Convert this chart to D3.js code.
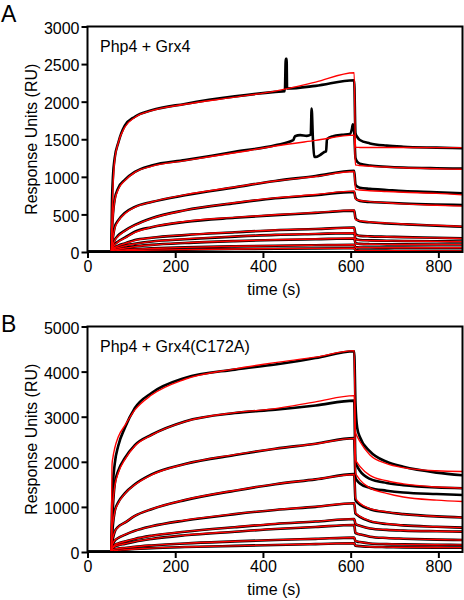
<!DOCTYPE html>
<html><head><meta charset="utf-8">
<script src="https://cdn.jsdelivr.net/npm/d3@7"></script>
<style>body{margin:0;background:#fff}svg{display:block}</style>
</head><body><svg id="c" width="464" height="600"></svg>
<script>
// sample times (s)
const times = [0,54,56,58,62,70,85,108,146,222,336,428,520,608,611,615,621,644,682,720,796,855];
const xTicks = [0,200,400,600,800];
const yTicksA = [0,500,1000,1500,2000,2500,3000];
const yTicksB = [0,1000,2000,3000,4000,5000];

// Panel A: Php4 + Grx4 — measured (black)
const dataA1 = [0,0,700,1000,1250,1450,1680,1800,1885,1970,2070,2130,2210,2285,1580,1530,1490,1445,1415,1400,1388,1380];
const dataA2 = [0,0,300,500,700,850,960,1065,1150,1222,1332,1420,1265,1600,1250,1200,1175,1150,1135,1125,1115,1110];
const dataA3 = [0,0,120,200,330,420,520,600,665,755,860,945,1010,1080,900,870,855,840,825,810,795,780];
const dataA4 = [0,0,60,100,160,220,285,360,450,555,650,715,755,800,720,695,680,665,655,645,632,625];
const dataA5 = [0,0,40,60,100,140,190,270,330,400,455,490,520,550,450,425,410,395,380,370,350,336];
const dataA6 = [0,0,25,40,60,85,115,160,190,225,262,290,305,325,240,225,215,208,203,198,190,181];
const dataA7 = [0,0,15,30,45,60,85,110,140,170,205,228,240,250,175,165,160,155,150,147,143,140];
const dataA8 = [0,0,10,18,28,38,55,75,95,120,145,160,170,180,120,112,108,104,102,101,100,100];
const dataA9 = [0,0,6,10,15,20,28,38,48,62,75,84,90,95,65,62,60,59,58,58,57,57];
const dataA10 = [0,0,3,5,8,11,15,20,25,32,40,44,47,50,25,22,20,19,18,17,16,15];
// extra measured points (artefacts) for A1 and A2: [time, RU]
const noiseA1 = [[450,2140],[452,2570],[454,2570],[455,2175]];
const noiseA2 = [[469,1487],[473,1540],[485,1555],[500,1545],[509,1560],[511,1910],[514,1500],[517,1270],[530,1290],[540,1330],[544,1340],[546,1500],[560,1540],[580,1560],[598,1570],[603,1640],[605,1700],[607,1640]];
// Panel A fits (red)
const fitA1 = [0,0,500,850,1220,1450,1660,1790,1880,1965,2060,2140,2260,2385,1392,1392,1391,1391,1390,1390,1389,1388];
const fitA2 = [0,0,250,450,680,830,950,1060,1140,1215,1320,1410,1485,1555,1160,1155,1150,1140,1130,1120,1108,1100];
const fitA3 = [0,0,100,180,310,410,510,595,665,760,865,945,1005,1070,835,830,825,815,805,795,780,760];
const fitA4 = [0,0,50,90,150,210,280,355,445,555,655,720,765,810,705,695,685,670,655,640,622,610];
const fitA5 = [0,0,35,55,95,135,185,260,330,405,460,495,525,555,430,425,415,400,385,372,355,340];
const fitA6 = [0,0,22,38,58,82,112,155,190,228,265,292,308,322,230,222,215,208,202,196,188,180];
const fitA7 = [0,0,14,28,44,58,82,108,138,172,208,230,242,252,170,163,158,153,149,146,142,138];
const fitA8 = [0,0,9,17,27,37,52,72,93,122,147,162,172,182,115,110,106,103,101,100,99,98];
const fitA9 = [0,0,5,9,14,19,27,37,47,62,76,85,91,96,62,60,59,58,57,57,56,56];
const fitA10 = [0,0,3,5,8,11,15,20,25,32,40,45,48,51,24,21,19,18,17,16,15,14];

// Panel B: Php4 + Grx4(C172A) — measured (black)
const dataB1 = [0,0,1000,1500,1950,2350,2748,3193,3526,3859,4044,4156,4300,4450,3300,2750,2550,2230,2000,1890,1760,1700];
const dataB2 = [0,0,600,1000,1500,1800,2078,2370,2600,2896,3081,3156,3250,3356,2000,1900,1800,1620,1530,1480,1430,1415];
const dataB3 = [0,0,350,600,900,1100,1300,1500,1720,1950,2150,2289,2400,2526,1650,1580,1520,1420,1360,1320,1285,1265];
const dataB4 = [0,0,180,300,450,560,650,800,950,1150,1360,1504,1610,1726,1150,1100,1050,950,880,840,790,765];
const dataB5 = [0,0,100,170,250,310,380,470,570,700,840,933,1000,1081,850,820,780,680,620,590,560,541];
const dataB6 = [0,0,60,100,150,190,230,290,360,450,550,622,675,733,620,600,580,520,490,475,460,452];
const dataB7 = [0,0,45,80,120,150,180,230,290,370,450,511,555,600,420,405,390,340,310,295,275,267];
const dataB8 = [0,0,25,40,60,75,90,115,145,190,235,267,292,319,240,230,220,190,175,168,160,156];
const dataB9 = [0,0,12,20,30,40,50,65,85,110,135,156,175,193,140,135,130,115,108,103,98,96];
// Panel B fits (red)
const fitB1 = [0,0,1950,2100,2300,2550,2800,3150,3480,3830,4060,4200,4320,4465,2650,2560,2450,2150,1960,1870,1800,1785];
const fitB2 = [0,0,900,1100,1450,1750,2050,2350,2590,2890,3090,3180,3330,3467,2050,1980,1900,1700,1580,1510,1440,1415];
const fitB3 = [0,0,500,650,880,1080,1290,1490,1710,1950,2160,2290,2400,2520,1750,1680,1600,1420,1300,1220,1150,1120];
const fitB4 = [0,0,250,330,450,550,650,800,950,1155,1365,1505,1610,1720,1200,1140,1080,960,890,840,790,765];
const fitB5 = [0,0,140,190,260,310,385,470,570,705,845,935,1005,1080,870,830,790,690,625,590,560,541];
const fitB6 = [0,0,80,110,155,190,232,290,360,452,552,625,678,735,630,605,580,525,492,476,461,452];
const fitB7 = [0,0,60,90,125,152,182,230,290,372,452,512,556,602,430,410,390,342,312,296,276,267];
const fitB8 = [0,0,35,48,64,78,92,116,146,192,237,268,293,320,245,235,222,192,177,169,161,157];
const fitB9 = [0,0,18,24,32,41,51,66,86,111,136,157,176,194,142,137,131,116,109,104,99,97];

const FONT = '"Liberation Sans", Arial, Helvetica, sans-serif';
const svg = d3.select('#c');

function toPts(vals, extra) {
  let pts = times.map((t, i) => [t, vals[i]]);
  if (extra) pts = pts.concat(extra);
  return pts.sort((a, b) => a[0] - b[0]);
}

function panel(cfg) {
  const x = d3.scaleLinear().domain([0, 855]).range([87.5, 462.5]);
  const y = d3.scaleLinear().domain([0, cfg.ymax]).range([cfg.y0, cfg.y1]);
  const g = svg.append('g');
  const clipId = 'clip' + cfg.id;
  svg.append('clipPath').attr('id', clipId).append('rect')
    .attr('x', x(0) - 1).attr('y', y(cfg.ymax)).attr('width', x(855) - x(0) + 1).attr('height', y(0) - y(cfg.ymax) + 1);
  const line = d3.line().x(d => x(d[0])).y(d => y(d[1])).curve(d3.curveMonotoneX);
  const lines = g.append('g').attr('clip-path', `url(#${clipId})`);
  cfg.data.forEach((s, i) => {
    lines.append('path').attr('d', line(toPts(s, cfg.extra[i])))
      .attr('fill', 'none').attr('stroke', '#000').attr('stroke-width', 2.6).attr('stroke-linejoin', 'round');
  });
  cfg.fit.forEach(s => {
    lines.append('path').attr('d', line(toPts(s)))
      .attr('fill', 'none').attr('stroke', '#ff0000').attr('stroke-width', 1.4);
  });
  // frame
  g.append('rect').attr('x', x(0)).attr('y', y(cfg.ymax)).attr('width', x(855) - x(0)).attr('height', y(0) - y(cfg.ymax))
    .attr('fill', 'none').attr('stroke', '#000').attr('stroke-width', 2);
  const ya = g.append('g').attr('transform', `translate(${x(0)},0)`)
    .call(d3.axisLeft(y).tickValues(cfg.yticks).tickSize(6).tickPadding(2).tickFormat(d3.format('d')));
  const xa = g.append('g').attr('transform', `translate(0,${y(0)})`)
    .call(d3.axisBottom(x).tickValues(xTicks).tickSize(6).tickPadding(3).tickFormat(d3.format('d')));
  [ya, xa].forEach(a => {
    a.select('.domain').remove();
    a.selectAll('line').attr('stroke', '#000').attr('stroke-width', 2);
    a.selectAll('text').attr('font-family', FONT).attr('font-size', 16).attr('fill', '#000');
  });
  ya.selectAll('text').attr('dy', '0.42em');
  g.append('text').attr('x', 274).attr('y', y(0) + 43).attr('text-anchor', 'middle')
    .attr('font-family', FONT).attr('font-size', 16).text('time (s)');
  g.append('text').attr('transform', `translate(37,${(y(0) + y(cfg.ymax)) / 2}) rotate(-90)`)
    .attr('text-anchor', 'middle').attr('font-family', FONT).attr('font-size', 16).text('Response Units (RU)');
  g.append('text').attr('x', 100).attr('y', y(cfg.ymax) + 25.5)
    .attr('font-family', FONT).attr('font-size', 16).text(cfg.label);
  g.append('text').attr('x', 1).attr('y', cfg.letterY)
    .attr('font-family', FONT).attr('font-size', 23).text(cfg.letter);
}

panel({id: 'A', ymax: 3000, y0: 252, y1: 26.5, yticks: yTicksA, letter: 'A', letterY: 22, label: 'Php4 + Grx4',
  data: [dataA1, dataA2, dataA3, dataA4, dataA5, dataA6, dataA7, dataA8, dataA9, dataA10],
  extra: [noiseA1, noiseA2],
  fit: [fitA1, fitA2, fitA3, fitA4, fitA5, fitA6, fitA7, fitA8, fitA9, fitA10]});
panel({id: 'B', ymax: 5000, y0: 552, y1: 326.5, yticks: yTicksB, letter: 'B', letterY: 331.5, label: 'Php4 + Grx4(C172A)',
  data: [dataB1, dataB2, dataB3, dataB4, dataB5, dataB6, dataB7, dataB8, dataB9],
  extra: [],
  fit: [fitB1, fitB2, fitB3, fitB4, fitB5, fitB6, fitB7, fitB8, fitB9]});
</script>
</body></html>
